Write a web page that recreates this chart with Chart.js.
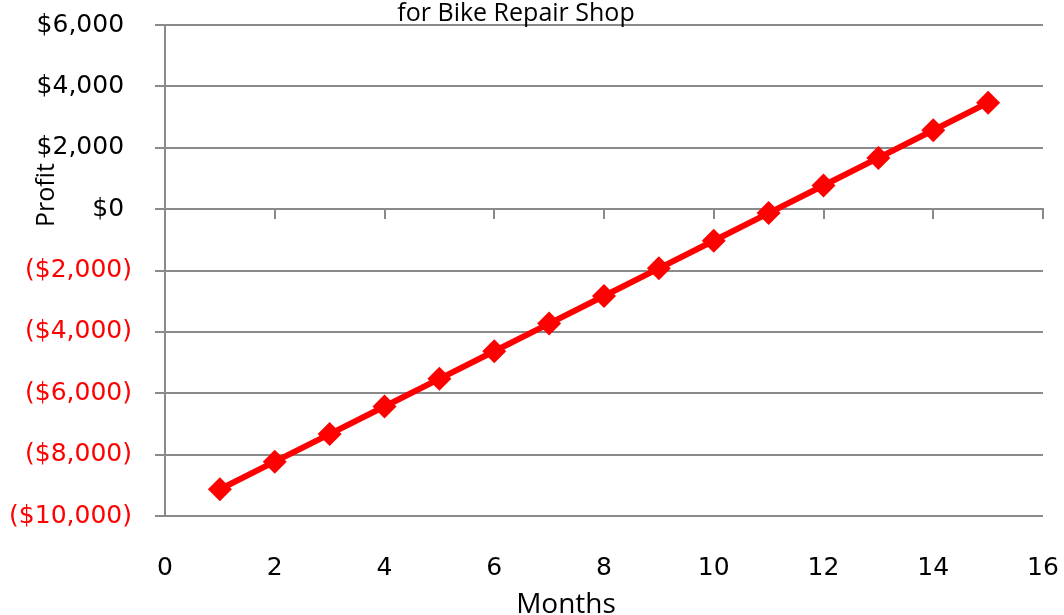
<!DOCTYPE html>
<html>
<head>
<meta charset="utf-8">
<title>Profit for Bike Repair Shop</title>
<script src="https://cdn.jsdelivr.net/npm/chart.js@4"></script>
<style>
    html, body { margin: 0; padding: 0; background: #ffffff; }
    #wrap { width: 1064px; height: 615px; }
</style>
</head>
<body>
<div id="wrap"><canvas id="graficaProfit" width="1064" height="615"></canvas></div>
<script>
// Data:
const months = [1, 2, 3, 4, 5, 6, 7, 8, 9, 10, 11, 12, 13, 14, 15];
const profit = [-9130, -8230, -7330, -6430, -5530, -4630, -3730, -2830, -1930, -1030, -130, 770, 1670, 2570, 3470];
const yTicks = [-10000, -8000, -6000, -4000, -2000, 0, 2000, 4000, 6000];
const xTicks = [0, 2, 4, 6, 8, 10, 12, 14, 16];

const titleText = "for Bike Repair Shop";
const xTitle = "Months";
const yTitle = "Profit";

const gridColor = "#8a8a8a";

// Excel style money label: ($2,000) for negatives
function moneyLabel(value)
{
    const txt = "$" + Math.abs(value).toLocaleString("en-US");
    if (value < 0) return "(" + txt + ")";
    return txt + " ";
}

// No label overflow padding, the layout padding places the plot area:
function noOverflow(scale)
{
    scale.paddingLeft = 0;
    scale.paddingRight = 0;
    scale.paddingTop = 0;
    scale.paddingBottom = 0;
}

// Texts placed like in the original picture:
const textPlugin = {
    id: "textPlugin",
    afterDraw: function (chart)
    {
        const ctx = chart.ctx;
        ctx.save();
        ctx.fillStyle = "#000000";
        ctx.textAlign = "center";
        ctx.textBaseline = "alphabetic";

        ctx.font = "25px 'Open Sans'";
        ctx.fillText(titleText, 516, 21);

        ctx.font = "28px 'Open Sans'";
        ctx.fillText(xTitle, 566, 613);

        ctx.translate(54, 195);
        ctx.rotate(-Math.PI / 2);
        ctx.font = "25px 'Open Sans'";
        ctx.fillText(yTitle, 0, 0);
        ctx.restore();
    }
};

function drawChart(canvas)
{
    const ctx = document.getElementById(canvas).getContext("2d");
    const points = months.map(function (m, i) { return {x: m, y: profit[i]}; });

    const myChart = new Chart(ctx, {
        type: "line",
        data: {
            datasets: [{
                data: points,
                label: "Profit",
                borderColor: "#ff0000",
                backgroundColor: "#ff0000",
                borderWidth: 6,
                pointStyle: "rectRot",
                pointRadius: 12,
                pointBorderWidth: 0,
                pointBackgroundColor: "#ff0000",
                tension: 0,
                xAxisID: "x",
                yAxisID: "y"
            }]
        },
        options: {
            responsive: false,
            animation: false,
            events: [],
            layout: {
                padding: {left: 0, right: 21, top: 25, bottom: 0}
            },
            plugins: {
                legend: {display: false},
                title: {display: false},
                tooltip: {enabled: false}
            },
            scales: {
                x: {
                    type: "linear",
                    position: "bottom",
                    min: 0,
                    max: 16,
                    afterBuildTicks: function (scale) {
                        scale.ticks = xTicks.map(function (v) { return {value: v}; });
                    },
                    afterFit: function (scale) {
                        scale.height = 99;
                        noOverflow(scale);
                    },
                    grid: {display: false, drawTicks: false},
                    border: {display: false},
                    ticks: {
                        padding: 37,
                        color: "#000000",
                        font: {family: "DejaVu Sans", size: 25}
                    }
                },
                xz: {
                    type: "linear",
                    position: {y: 0},
                    min: 0,
                    max: 16,
                    afterBuildTicks: function (scale) {
                        scale.ticks = xTicks.map(function (v) { return {value: v}; });
                    },
                    afterFit: noOverflow,
                    grid: {
                        drawOnChartArea: false,
                        drawTicks: true,
                        tickLength: 9,
                        color: gridColor,
                        lineWidth: 2
                    },
                    border: {display: true, color: gridColor, width: 2},
                    ticks: {display: false}
                },
                y: {
                    type: "linear",
                    position: "left",
                    min: -10000,
                    max: 6000,
                    afterBuildTicks: function (scale) {
                        scale.ticks = yTicks.map(function (v) { return {value: v}; });
                    },
                    afterFit: function (scale) {
                        scale.width = 165;
                        noOverflow(scale);
                    },
                    grid: {
                        color: gridColor,
                        lineWidth: 2,
                        tickLength: 10
                    },
                    border: {display: true, color: gridColor, width: 2},
                    ticks: {
                        padding: 23,
                        font: {family: "DejaVu Sans", size: 25},
                        color: function (c) { return c.tick && c.tick.value < 0 ? "#ff0000" : "#000000"; },
                        callback: function (value) { return moneyLabel(value); }
                    }
                }
            }
        },
        plugins: [textPlugin]
    });
    return myChart;
}

drawChart("graficaProfit");
</script>
</body>
</html>
